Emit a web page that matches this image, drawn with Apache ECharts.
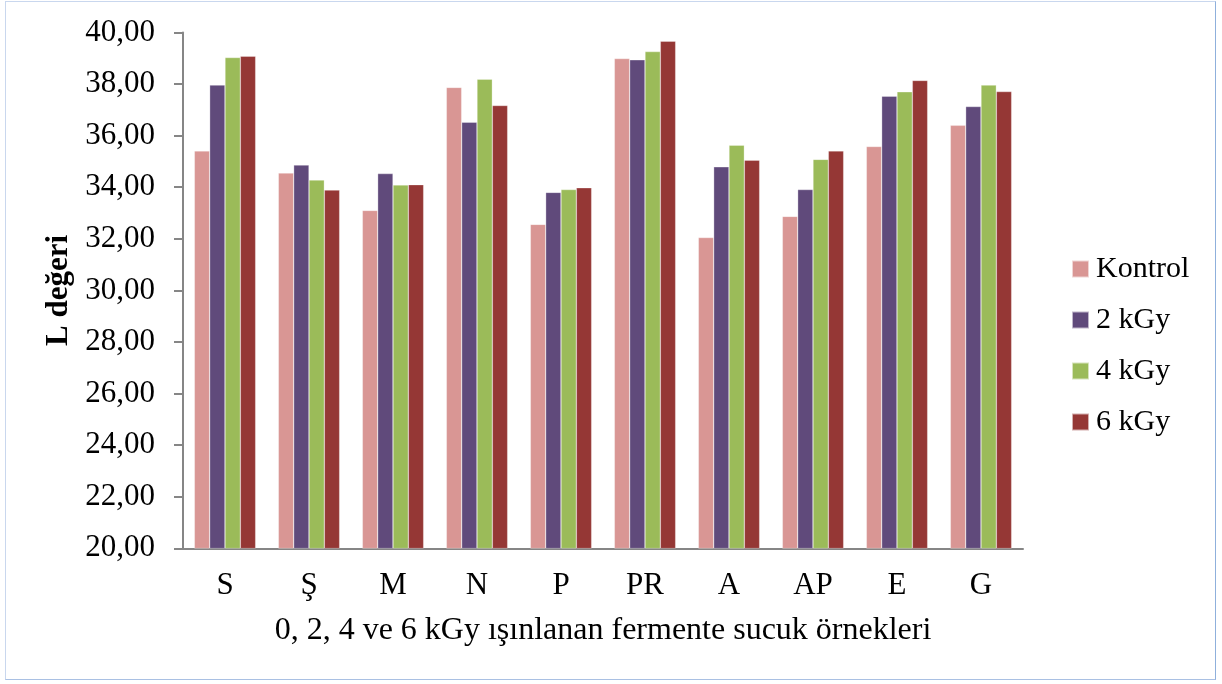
<!DOCTYPE html>
<html>
<head>
<meta charset="utf-8">
<script src="https://cdn.jsdelivr.net/npm/echarts@6/dist/echarts.min.js"></script>
<style>
  html, body { margin: 0; padding: 0; background: #fff; }
  #frame { position: absolute; left: 5px; top: 1px; width: 1209px; height: 677px; border: 1.5px solid #c9d7ee; border-right-color: #8fb0dc; border-bottom-color: #a9c0e3; }
  #chart-container { position: absolute; left: 0; top: 0; width: 1222px; height: 684px; }
</style>
</head>
<body>
<div id="frame"></div>
<div id="chart-container"></div>
<script>
const categories = ['S', 'Ş', 'M', 'N', 'P', 'PR', 'A', 'AP', 'E', 'G'];
const kontrol = [35.41, 34.55, 33.10, 37.87, 32.56, 38.99, 32.05, 32.87, 35.58, 36.40];
const kGy2 = [37.96, 34.86, 34.53, 36.52, 33.80, 38.94, 34.79, 33.91, 37.53, 37.13];
const kGy4 = [39.03, 34.28, 34.09, 38.19, 33.91, 39.26, 35.63, 35.08, 37.70, 37.96];
const kGy6 = [39.08, 33.89, 34.10, 37.17, 33.98, 39.66, 35.05, 35.41, 38.14, 37.71];

const start = () => {
  const chartDom = document.getElementById('chart-container');
  const myChart = echarts.init(chartDom, null, { renderer: 'canvas' });
  const font = 'Liberation Serif, Times New Roman, serif';
  const bar = (name, data, color) => ({
    name: name,
    type: 'bar',
    data: data,
    barGap: '0%',
    barCategoryGap: '27%',
    itemStyle: { color: color, borderColor: 'rgba(255,255,255,0.6)', borderWidth: 0.5 },
    emphasis: { disabled: true }
  });
  const option = {
    animation: false,
    textStyle: { fontFamily: font, color: '#000' },
    grid: { left: 183, top: 32.5, right: 199, bottom: 135.7, containLabel: false },
    legend: {
      orient: 'vertical',
      left: 1066,
      top: 249,
      itemWidth: 17,
      itemHeight: 17,
      itemGap: 21,
      icon: 'rect',
      textStyle: { fontFamily: font, fontSize: 30, color: '#000', padding: [0, 0, 0, 2] },
      data: ['Kontrol', '2 kGy', '4 kGy', '6 kGy']
    },
    xAxis: {
      type: 'category',
      data: categories,
      name: '0, 2, 4 ve 6 kGy ışınlanan fermente sucuk örnekleri',
      nameLocation: 'middle',
      nameGap: 66,
      nameTextStyle: { fontFamily: font, fontSize: 32, color: '#000' },
      axisLine: { lineStyle: { color: '#868686', width: 2 } },
      axisTick: { show: false },
      axisLabel: { fontFamily: font, fontSize: 31, color: '#000', margin: 22 }
    },
    yAxis: {
      type: 'value',
      min: 20,
      max: 40,
      interval: 2,
      name: 'L değeri',
      nameLocation: 'middle',
      nameGap: 102,
      nameTextStyle: { fontFamily: font, fontSize: 31, fontWeight: 'bold', color: '#000' },
      axisLine: { show: true, lineStyle: { color: '#868686', width: 2 } },
      axisTick: { show: true, length: 9, lineStyle: { color: '#868686', width: 2 } },
      splitLine: { show: false },
      axisLabel: {
        fontFamily: font, fontSize: 31, color: '#000', margin: 28,
        formatter: v => v.toFixed(2).replace('.', ',')
      }
    },
    series: [
      bar('Kontrol', kontrol, '#D99694'),
      bar('2 kGy', kGy2, '#604A7B'),
      bar('4 kGy', kGy4, '#9BBB59'),
      bar('6 kGy', kGy6, '#953735')
    ]
  };
  myChart.setOption(option);
};

start();
</script>
</body>
</html>
